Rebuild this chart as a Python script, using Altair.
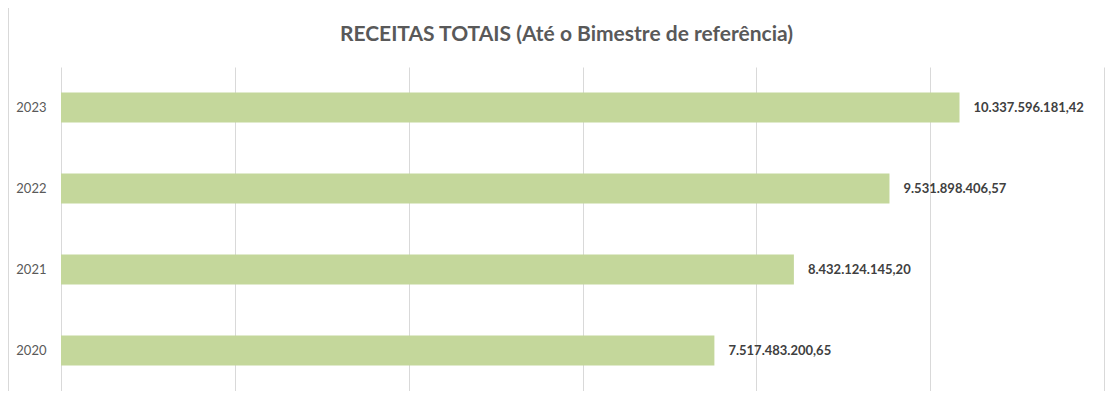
import altair as alt
import pandas as pd

years = ["2023", "2022", "2021", "2020"]
values = [10337596181.42, 9531898406.57, 8432124145.20, 7517483200.65]
grid_values = [0, 2e9, 4e9, 6e9, 8e9, 10e9, 12e9]
title_text = "RECEITAS TOTAIS (Até o Bimestre de referência)"


def br(v):
    s = f"{v:,.2f}"
    return s.replace(",", "X").replace(".", ",").replace("X", ".")


df = pd.DataFrame({"ano": years, "valor": values, "rotulo": [br(v) for v in values]})

x_scale = alt.Scale(domain=[0, 12e9], nice=False)
x = alt.X("valor:Q", scale=x_scale,
          axis=alt.Axis(title=None, labels=False, ticks=False, domain=False,
                        values=grid_values,
                        grid=True, gridColor="#D9D9D9", gridWidth=1))
y = alt.Y("ano:N", sort=years,
          scale=alt.Scale(paddingInner=0.63, paddingOuter=0.315),
          axis=alt.Axis(title=None, ticks=False, domain=False, labelPadding=15,
                        labelFont="Lato", labelFontSize=13, labelColor="#595959"))

bars = alt.Chart(df).mark_bar(color="#C4D79B").encode(x=x, y=y)
labels = alt.Chart(df).mark_text(align="left", baseline="middle", dx=14,
                                 font="Lato", fontSize=13, fontWeight="bold",
                                 color="#404040").encode(
    x=alt.X("valor:Q", scale=x_scale), y=alt.Y("ano:N", sort=years), text="rotulo:N")
border = alt.Chart(df).mark_rule(color="#D9D9D9").encode(
    x=alt.value(-52.5), y=alt.value(-59), y2=alt.value(334))

chart = alt.layer(border, bars, labels).properties(
    width=1043, height=324,
    title=alt.TitleParams(title_text, font="Lato", fontSize=21, fontWeight="bold",
                          color="#595959", anchor="middle", dx=-16, offset=-54,
                          baseline="alphabetic"),
    autosize=alt.AutoSizeParams(type="none"),
    padding={"left": 53, "top": 59, "right": 1, "bottom": 0},
).configure_view(stroke=None)

chart.save("out.html", embed_options={"renderer": "svg", "actions": False})
